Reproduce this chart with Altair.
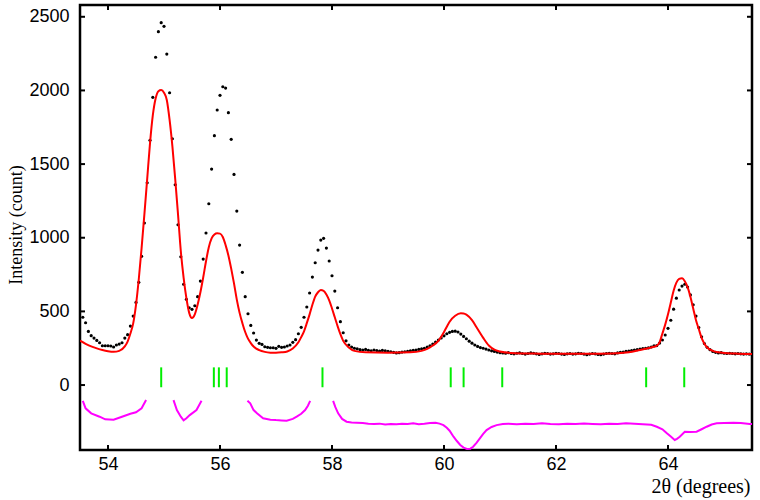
import altair as alt
import pandas as pd
import numpy as np

# ---------------- data ----------------
obs_start = 53.55
obs_step = 0.05
obs_y = [
    460, 423, 364, 335, 319, 303, 287, 267, 267, 267,
    265, 258, 272, 278, 287, 319, 342, 400, 468, 561,
    697, 874, 1100, 1373, 1661, 1953, 2225, 2399, 2460, 2435,
    2247, 1984, 1672, 1360, 1088, 871, 684, 582, 525, 514,
    538, 600, 706, 855, 1032, 1231, 1466, 1693, 1867, 1967,
    2025, 2016, 1849, 1668, 1430, 1181, 950, 765, 600, 484,
    405, 353, 305, 283, 276, 260, 256, 253, 253, 249,
    263, 256, 258, 265, 272, 290, 308, 348, 392, 460,
    530, 625, 733, 830, 916, 984, 996, 930, 842, 742,
    638, 525, 430, 355, 300, 272, 258, 250, 246, 240,
    238, 242, 236, 232, 238, 234, 230, 235, 232, 228,
    226, 222, 218, 220, 224, 226, 228, 232, 236, 238,
    242, 246, 250, 258, 266, 278, 292, 306, 320, 334,
    348, 358, 364, 366, 360, 346, 330, 314, 298, 284,
    272, 262, 254, 250, 244, 238, 232, 228, 224, 220,
    218, 216, 220, 214, 212, 216, 218, 214, 210, 214,
    218, 216, 212, 208, 212, 216, 214, 210, 212, 216,
    214, 210, 208, 212, 214, 210, 212, 216, 214, 210,
    206, 210, 214, 212, 208, 206, 210, 214, 216, 214,
    212, 218, 222, 224, 228, 230, 234, 238, 240, 244,
    248, 250, 252, 258, 266, 268, 285, 306, 340, 385,
    440, 515, 590, 645, 672, 684, 665, 612, 545, 468,
    390, 328, 282, 256, 240, 228, 222, 218, 220, 216,
    214, 216, 214, 212, 214, 212, 210, 212, 210, 208,
]

calc_x = [53.5, 53.6, 53.7, 53.8, 53.9, 54.0, 54.1, 54.2, 54.3, 54.35,
          54.4, 54.45, 54.5, 54.55, 54.6, 54.65, 54.7, 54.75, 54.8, 54.85,
          54.9, 54.95, 55.0, 55.05, 55.1, 55.15, 55.2, 55.25, 55.3, 55.35,
          55.4, 55.45, 55.5, 55.55, 55.6, 55.65, 55.7, 55.75, 55.8, 55.85,
          55.9, 55.95, 56.0, 56.05, 56.1, 56.15, 56.2, 56.25, 56.3, 56.35,
          56.4, 56.45, 56.5, 56.55, 56.6, 56.7, 56.8, 56.9, 57.0, 57.1,
          57.2, 57.3, 57.4, 57.45, 57.5, 57.55, 57.6, 57.65, 57.7, 57.75,
          57.8, 57.85, 57.9, 57.95, 58.0, 58.05, 58.1, 58.15, 58.2, 58.3,
          58.4, 58.6, 59.0, 59.4, 59.6, 59.7, 59.8, 59.9, 60.0, 60.05,
          60.1, 60.2, 60.3, 60.35, 60.4, 60.5, 60.6, 60.7, 60.8, 60.9,
          61.0, 61.2, 61.6, 62.0, 62.5, 63.0, 63.3, 63.5, 63.7, 63.8,
          63.85, 63.9, 63.95, 64.0, 64.05, 64.1, 64.15, 64.2, 64.25, 64.3,
          64.35, 64.4, 64.45, 64.5, 64.55, 64.6, 64.65, 64.7, 64.8, 64.9,
          65.0, 65.2, 65.5]
calc_y = [301, 280, 262, 249, 238, 230, 226, 232, 262, 295,
          350, 419, 545, 720, 930, 1160, 1400, 1641, 1830, 1945,
          1995, 2003, 1985, 1935, 1800, 1620, 1400, 1160, 910, 730,
          590, 490, 455, 480, 545, 630, 730, 840, 935, 995,
          1022, 1030, 1028, 1005, 950, 880, 790, 690, 580, 490,
          420, 360, 315, 285, 262, 237, 225, 220, 219, 222,
          228, 248, 290, 325, 365, 420, 480, 545, 600, 630,
          645, 640, 615, 575, 520, 460, 400, 345, 300, 255,
          232, 222, 220, 222, 232, 245, 268, 300, 360, 396,
          430, 470, 487, 486, 478, 440, 380, 320, 268, 240,
          228, 218, 214, 212, 212, 214, 222, 238, 255, 268,
          290, 350, 410, 480, 560, 640, 695, 720, 725, 705,
          665, 600, 520, 440, 380, 320, 280, 255, 232, 222,
          218, 214, 210]

diff_x = [53.55, 53.6, 53.7, 53.85, 53.95, 54.1, 54.25, 54.4, 54.5, 54.6, 54.68,
          54.9,
          55.17, 55.23, 55.3, 55.35, 55.4, 55.46, 55.58, 55.67,
          56.0,
          56.49, 56.54, 56.6, 56.66, 56.77, 56.9, 57.0, 57.1, 57.19, 57.3, 57.37, 57.45, 57.52, 57.57, 57.61,
          57.8,
          58.02, 58.06, 58.11, 58.18, 58.26, 58.35, 58.44, 58.55, 58.65, 58.75, 58.85, 58.95, 59.05,
          59.15, 59.25, 59.35, 59.45, 59.55, 59.65, 59.75, 59.85, 59.92, 59.99, 60.05, 60.1, 60.17,
          60.23, 60.29, 60.35, 60.41, 60.47, 60.52, 60.58, 60.64, 60.7, 60.76, 60.85, 60.94, 61.05,
          61.15, 61.3, 61.45, 61.6, 61.75, 61.9, 62.05, 62.2, 62.35, 62.5, 62.65, 62.8, 62.95, 63.1,
          63.25, 63.4, 63.55, 63.7, 63.8, 63.9, 63.98, 64.05, 64.12, 64.16, 64.21, 64.3, 64.4, 64.51,
          64.6, 64.69, 64.78, 64.87, 65.0, 65.17, 65.3, 65.46, 65.5]
diff_y = [-107, -158, -192, -215, -233, -236, -215, -195, -185, -158, -102,
          None,
          -102, -170, -215, -240, -225, -204, -170, -107,
          None,
          -107, -124, -170, -192, -226, -235, -238, -240, -242, -230, -215, -195, -170, -140, -107,
          None,
          -107, -150, -192, -230, -249, -254, -256, -258, -262, -265, -262, -268, -264,
          -266, -262, -265, -260, -266, -263, -258, -256, -262, -272, -290, -310, -351,
          -380, -407, -425, -434, -432, -419, -392, -362, -332, -306, -285, -272, -265,
          -262, -266, -262, -265, -260, -264, -266, -262, -265, -261, -264, -267, -262, -264,
          -260, -263, -266, -270, -283, -300, -328, -350, -373, -365, -351, -317, -318, -317,
          -300, -283, -268, -260, -258, -256, -258, -265, -265]

refl_x = [54.95, 55.89, 55.98, 56.12, 57.83, 60.12, 60.35, 61.04, 63.61, 64.29]
x_ticks = [54, 56, 58, 60, 62, 64]
y_ticks = [0, 500, 1000, 1500, 2000, 2500]

# ---------------- tables ----------------
obs = pd.DataFrame({
    "x": np.round(obs_start + obs_step * np.arange(len(obs_y)), 2),
    "y": obs_y,
})
calc = pd.DataFrame({"x": calc_x, "y": calc_y})

seg, segs = 0, []
for v in diff_y:
    if v is None:
        seg += 1
    segs.append(seg)
diff = pd.DataFrame({"x": diff_x, "y": diff_y, "seg": segs}).dropna()
refl = pd.DataFrame({"x": refl_x})
xt = pd.DataFrame({"x": x_ticks})
yt = pd.DataFrame({"y": y_ticks})

W, H = 672, 445
xs = alt.Scale(domain=[53.5, 65.5], nice=False, zero=False)
ys = alt.Scale(domain=[-441, 2580], nice=False, zero=False)

x_axis = alt.Axis(values=x_ticks, format="d", tickSize=0, labelPadding=5, domain=False, grid=False,
                  labelFont="Liberation Sans", labelFontSize=18, labelColor="black",
                  title="2θ (degrees)", titleFont="Liberation Serif", titleFontSize=20,
                  titleFontWeight="normal", titleColor="black",
                  titleX=W - 2, titleY=42, titleAlign="right", titleBaseline="alphabetic")
y_axis = alt.Axis(values=y_ticks, format="d", tickSize=0, labelPadding=11, domain=False, grid=False,
                  labelFont="Liberation Sans", labelFontSize=18, labelColor="black",
                  title="Intensity (count)", titleFont="Liberation Serif", titleFontSize=18,
                  titleFontWeight="normal", titleColor="black",
                  titleX=-64, titleY=H / 2 - 3, titleAlign="center", titleBaseline="middle",
                  titleAngle=270)

dots = alt.Chart(obs).mark_circle(size=10, color="black", opacity=1, clip=True).encode(
    x=alt.X("x:Q", scale=xs, axis=x_axis),
    y=alt.Y("y:Q", scale=ys, axis=y_axis),
)
calc_line = alt.Chart(calc).mark_line(color="#ff0000", strokeWidth=2, interpolate="monotone",
                                      clip=True).encode(
    x=alt.X("x:Q", scale=xs), y=alt.Y("y:Q", scale=ys))
diff_line = alt.Chart(diff).mark_line(color="#ff00ff", strokeWidth=2, clip=True).encode(
    x=alt.X("x:Q", scale=xs), y=alt.Y("y:Q", scale=ys), detail="seg:N")
refl_rules = alt.Chart(refl).mark_rule(color="#00ee00", strokeWidth=2).encode(
    x=alt.X("x:Q", scale=xs), y=alt.Y(datum=120, scale=ys), y2=alt.Y2(datum=-15))

tick_len = 5
bottom_ticks = alt.Chart(xt).mark_rule(color="black", strokeWidth=2).encode(
    x=alt.X("x:Q", scale=xs), y=alt.value(H), y2=alt.value(H - tick_len))
top_ticks = alt.Chart(xt).mark_rule(color="black", strokeWidth=2).encode(
    x=alt.X("x:Q", scale=xs), y=alt.value(0), y2=alt.value(tick_len))
left_ticks = alt.Chart(yt).mark_rule(color="black", strokeWidth=2).encode(
    y=alt.Y("y:Q", scale=ys), x=alt.value(0), x2=alt.value(tick_len))
right_ticks = alt.Chart(yt).mark_rule(color="black", strokeWidth=2).encode(
    y=alt.Y("y:Q", scale=ys), x=alt.value(W), x2=alt.value(W - tick_len))

chart = alt.layer(
    dots, calc_line, diff_line, refl_rules,
    bottom_ticks, top_ticks, left_ticks, right_ticks,
).properties(
    width=W, height=H,
    autosize=alt.AutoSizeParams(type="none"),
    padding={"left": 80, "top": 5, "right": 8, "bottom": 50},
    background="white",
).configure_view(stroke="black", strokeWidth=2.5)

chart.save("out.html", embed_options={"renderer": "svg", "actions": False})
